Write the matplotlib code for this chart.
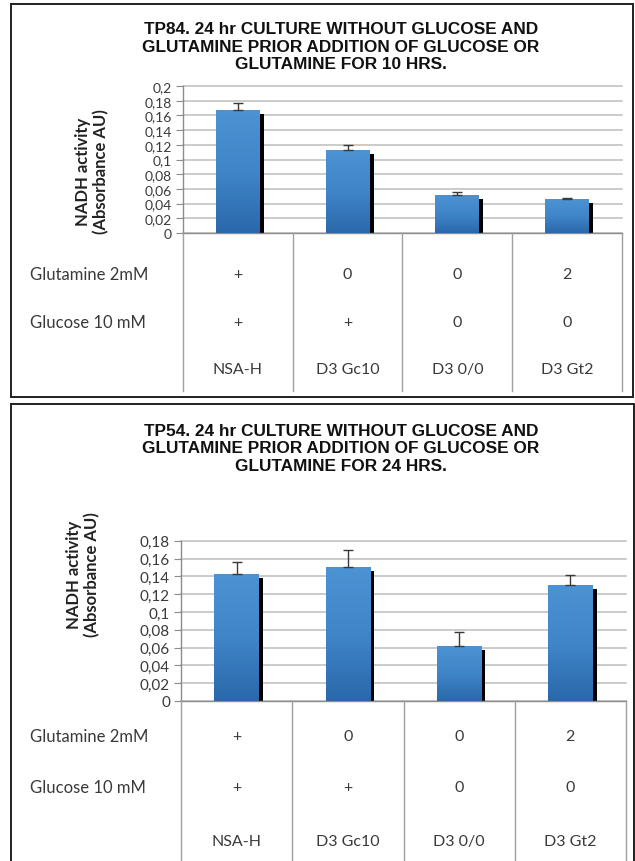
import numpy as np
import matplotlib
matplotlib.use('Agg')
import matplotlib.pyplot as plt
from matplotlib.patches import Rectangle
from matplotlib import transforms
from matplotlib.colors import LinearSegmentedColormap

W, H = 635, 862
DPI = 100

# ---------------- data ----------------
categories = ['NSA-H', 'D3 Gc10', 'D3 0/0', 'D3 Gt2']
glutamine_row = ['+', '0', '0', '2']
glucose_row = ['+', '+', '0', '0']
row_labels = ['Glutamine 2mM', 'Glucose 10 mM']
ylabel_text = 'NADH activity\n(Absorbance AU)'

top_title = ('TP84. 24 hr CULTURE WITHOUT GLUCOSE AND\n'
             'GLUTAMINE PRIOR ADDITION OF GLUCOSE OR\n'
             'GLUTAMINE FOR 10 HRS.')
top_values = [0.167, 0.113, 0.052, 0.046]
top_errors = [0.010, 0.007, 0.004, 0.001]
top_ticks = [0, 0.02, 0.04, 0.06, 0.08, 0.10, 0.12, 0.14, 0.16, 0.18, 0.20]
top_ticklabels = ['0', '0,02', '0,04', '0,06', '0,08', '0,1', '0,12', '0,14',
                  '0,16', '0,18', '0,2']

bottom_title = ('TP54. 24 hr CULTURE WITHOUT GLUCOSE AND\n'
                'GLUTAMINE PRIOR ADDITION OF GLUCOSE OR\n'
                'GLUTAMINE FOR 24 HRS.')
bottom_values = [0.143, 0.150, 0.062, 0.130]
bottom_errors = [0.013, 0.020, 0.015, 0.012]
bottom_ticks = [0, 0.02, 0.04, 0.06, 0.08, 0.10, 0.12, 0.14, 0.16, 0.18]
bottom_ticklabels = ['0', '0,02', '0,04', '0,06', '0,08', '0,1', '0,12',
                     '0,14', '0,16', '0,18']

# ---------------- style ----------------
plt.rcParams['font.family'] = ['Lato', 'DejaVu Sans']
GRID = '#bdbdbd'
AXC = '#8c8c8c'
TXT = '#3a3a3a'
bar_cmap = LinearSegmentedColormap.from_list('bar', ['#2a68ab', '#3f86c8', '#4b93d3'])

fig = plt.figure(figsize=(W / DPI, H / DPI), dpi=DPI)


def px_axes(l, t, r, b):
    return fig.add_axes([l / W, 1 - b / H, (r - l) / W, (b - t) / H])


def fig_text(x, y, s, **kw):
    fig.text(x / W, 1 - y / H, s, **kw)


def panel(box, plot_box, table_bottom, title, title_y, values, errors, ticks,
          ticklabels, tick_fs, ylab_xy, row_ys, name_y, ylab_fs):
    # panel border
    l, t, r, b = box
    fig.patches.append(Rectangle((l / W, 1 - b / H), (r - l) / W, (b - t) / H,
                                 transform=fig.transFigure, fill=False,
                                 edgecolor='#202020', lw=1.4))
    pl, pt, pr, pb = plot_box
    ax = px_axes(pl, pt, pr, pb)
    x = np.arange(len(categories))
    width = 0.4
    ymax = ticks[-1]
    # shadow
    shadow_tr = transforms.offset_copy(ax.transData, fig=fig, x=4, y=-4, units='dots')
    ax.bar(x, values, width, color='black', transform=shadow_tr, zorder=2)
    bars = ax.bar(x, values, width, color='#3d84c6', zorder=3)
    grad = np.linspace(0, 1, 100).reshape(-1, 1)
    for bar in bars:
        bx, by = bar.get_x(), bar.get_y()
        bw, bh = bar.get_width(), bar.get_height()
        im = ax.imshow(grad, cmap=bar_cmap, aspect='auto', origin='lower',
                       extent=[bx, bx + bw, by, by + bh], zorder=3.5)
        im.set_clip_path(bar)
    ax.errorbar(x, values, yerr=[np.zeros(len(values)), errors], fmt='none',
                ecolor='#3a3a3a', elinewidth=1, capsize=3.5, capthick=1, zorder=5)
    ax.set_xlim(-0.5, len(categories) - 0.5)
    ax.set_ylim(0, ymax)
    ax.set_yticks(ticks)
    ax.set_yticklabels(ticklabels, fontsize=tick_fs, color=TXT)
    ax.set_xticks([])
    ax.tick_params(axis='y', length=5, color=AXC, pad=3, width=0.8)
    ax.yaxis.grid(True, color=GRID, lw=1.1, zorder=0)
    ax.set_axisbelow(True)
    for s in ['top', 'right']:
        ax.spines[s].set_visible(False)
    for s in ['left', 'bottom']:
        ax.spines[s].set_color(AXC)
        ax.spines[s].set_linewidth(1.0)
    for line in ax.get_ygridlines():
        line.set_clip_on(False)
    ax.patch.set_alpha(0)

    # data table
    tab = px_axes(pl, pb, pr, table_bottom)
    tab.set_xlim(-0.5, len(categories) - 0.5)
    tab.set_ylim(table_bottom, pb)
    tab.axis('off')
    for xb in np.arange(len(categories) + 1) - 0.5:
        tab.plot([xb, xb], [pb, table_bottom], color='#a0a0a0', lw=1.0,
                 clip_on=False)
    for i in range(len(categories)):
        tab.text(x[i], row_ys[0], glutamine_row[i], ha='center', va='center',
                 fontsize=11.5, color=TXT)
        tab.text(x[i], row_ys[1], glucose_row[i], ha='center', va='center',
                 fontsize=11.5, color=TXT)
        tab.text(x[i], name_y, categories[i], ha='center', va='center',
                 fontsize=11.5, color=TXT)
    for lab, ry in zip(row_labels, row_ys):
        fig_text(30, ry, lab, ha='left', va='center', fontsize=12, color=TXT)

    # title and y label
    fig_text(341, title_y, title, ha='center', va='center',
             fontsize=12.4, fontweight='bold', family='Liberation Sans',
             linespacing=1.2, color='#111111')
    fig_text(ylab_xy[0], ylab_xy[1], ylabel_text, ha='center', va='center',
             rotation=90, fontsize=ylab_fs, fontweight='bold', color='#222222',
             multialignment='center', linespacing=1.1)
    return ax


panel(box=(11, 5, 633, 398), plot_box=(183, 87, 622, 234), table_bottom=392,
      title=top_title, title_y=47, values=top_values, errors=top_errors,
      ticks=top_ticks, ticklabels=top_ticklabels, tick_fs=10,
      ylab_xy=(92, 172), row_ys=(275, 323), name_y=370, ylab_fs=12)

panel(box=(11, 405, 634, 875), plot_box=(181, 541.7, 626, 702), table_bottom=875,
      title=bottom_title, title_y=449, values=bottom_values, errors=bottom_errors,
      ticks=bottom_ticks, ticklabels=bottom_ticklabels, tick_fs=11,
      ylab_xy=(83, 575), row_ys=(737, 788), name_y=842, ylab_fs=12)

fig.savefig('out.png', dpi=DPI)
